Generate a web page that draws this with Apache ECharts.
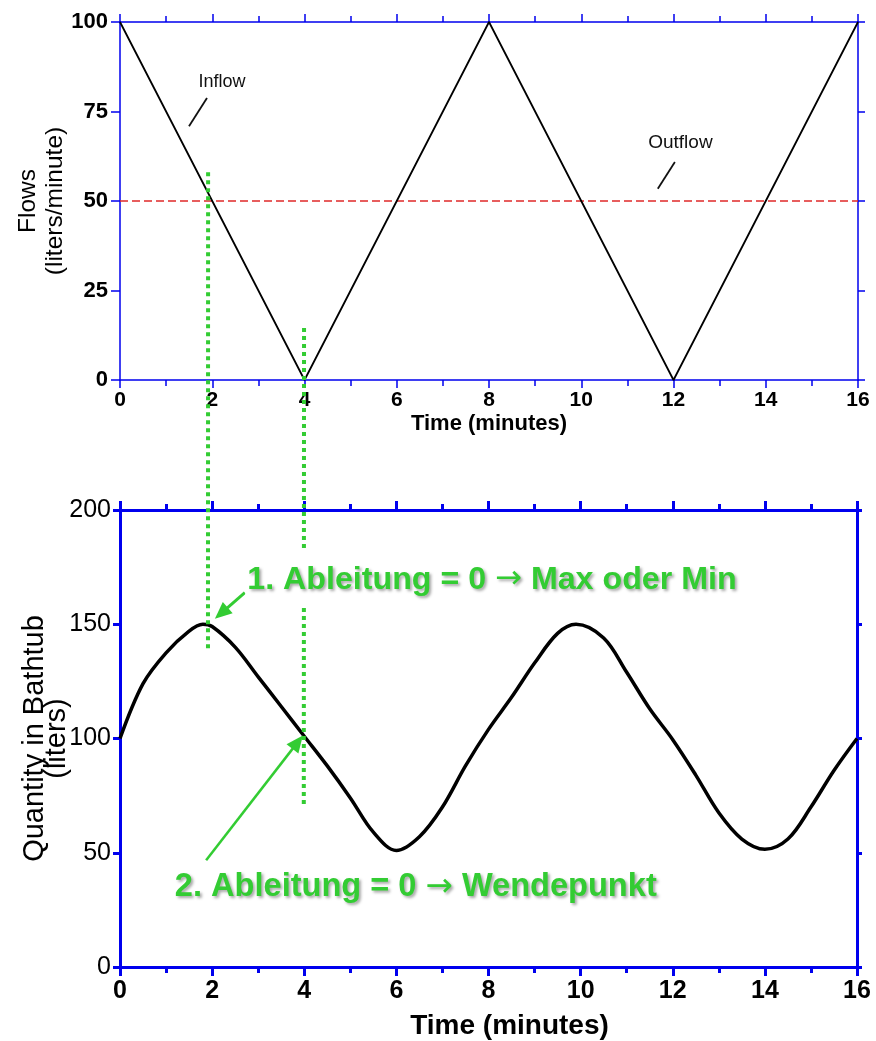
<!DOCTYPE html>
<html><head><meta charset="utf-8">
<script src="https://cdn.jsdelivr.net/npm/echarts@6/dist/echarts.min.js"></script>
<style>html,body{margin:0;padding:0;background:#fff}#c{width:876px;height:1041px}</style>
</head><body><div id="c"></div>
<script>
// ---- data ----
const inflowTime = [0, 4, 8, 12, 16];
const inflowValues = [100, 0, 100, 0, 100];
const outflowTime = [0, 16];
const outflowValues = [50, 50];
const quantityTime = [0, 0.5, 1, 1.5, 1.8, 2, 2.5, 3, 3.5, 4, 4.5, 5, 5.5, 6, 6.5, 7, 7.5, 8, 8.5, 9, 9.5, 9.9, 10.5, 11, 11.5, 12, 12.5, 13, 13.5, 14, 14.5, 15, 15.5, 16];
const quantityValues = [100, 124, 137.5, 147, 150, 149, 140, 127, 114, 101, 88, 74, 59, 51, 57, 70, 88, 104, 118, 133, 146, 150, 144, 129, 113, 99.5, 84, 67.5, 56, 51.5, 56, 70, 86, 100];
const flowTicks = [0, 25, 50, 75, 100];
const quantityTicks = [0, 50, 100, 150, 200];
const timeLabels = [0, 2, 4, 6, 8, 10, 12, 14, 16];
const annotation1 = ['1. Ableitung = 0 ', '\u2192', ' Max oder Min'];
const annotation2 = ['2. Ableitung = 0 ', '\u2192', ' Wendepunkt'];

// ---- styling ----
const FONT = 'Liberation Sans, Arial, sans-serif';
const BLUE = '#0000ee';
const GREEN = '#33cc33';

function xAxis(grid, position, o) {
  return {
    type: 'value', gridIndex: grid, position: position, min: 0, max: 16, interval: 2,
    axisLine: {show: true, onZero: false, lineStyle: {color: BLUE, width: o.w}},
    axisTick: {show: true, length: o.major, lineStyle: {color: BLUE, width: o.w}},
    minorTick: {show: true, splitNumber: 2, length: o.minor, lineStyle: {color: BLUE, width: o.w}},
    splitLine: {show: false}, minorSplitLine: {show: false},
    axisLabel: {show: !!o.label, fontSize: o.fs, fontWeight: 'bold', color: '#000', margin: o.margin, fontFamily: FONT,
      formatter: v => timeLabels.includes(v) ? String(v) : ''},
    name: o.name || '', nameLocation: 'middle', nameGap: o.nameGap || 0, nameMoveOverlap: false,
    nameTextStyle: {fontSize: o.nameFs, fontWeight: 'bold', color: '#000', fontFamily: FONT, padding: o.namePad || 0}
  };
}
function yAxis(grid, position, o) {
  return {
    type: 'value', gridIndex: grid, position: position, min: 0, max: o.max, interval: o.interval,
    axisLine: {show: true, onZero: false, lineStyle: {color: BLUE, width: o.w}},
    axisTick: {show: true, length: o.major, lineStyle: {color: BLUE, width: o.w}},
    splitLine: {show: false},
    axisLabel: {show: !!o.label, fontSize: o.fs, fontWeight: o.fw || 'bold', color: '#000', margin: o.margin, fontFamily: FONT,
      formatter: v => o.ticks.includes(v) ? String(v) : ''},
    name: o.name || '', nameLocation: 'middle', nameGap: o.nameGap || 0, nameMoveOverlap: false,
    nameTextStyle: o.nameStyle || {}
  };
}

const chart = echarts.init(document.getElementById('c'));
const option = {
  animation: false,
  backgroundColor: '#fff',
  grid: [
    {left: 120, right: 18, top: 22, height: 358, containLabel: false},
    {left: 120, right: 19, top: 510, height: 458, containLabel: false}
  ],
  xAxis: [
    xAxis(0, 'bottom', {w: 1.5, major: 8, minor: 6, label: true, fs: 21, margin: 10, name: 'Time (minutes)', nameFs: 22, nameGap: 33}),
    xAxis(0, 'top', {w: 1.5, major: 8, minor: 6}),
    xAxis(1, 'bottom', {w: 3, major: 9, minor: 6, label: true, fs: 25, margin: 12, name: 'Time (minutes)', nameFs: 28, nameGap: 45, namePad: [0, 0, 0, 42]}),
    xAxis(1, 'top', {w: 3, major: 9, minor: 6})
  ],
  yAxis: [
    yAxis(0, 'left', {w: 1.5, major: 9, max: 100, interval: 25, ticks: flowTicks, label: true, fs: 22, margin: 12,
      name: '{a|Flows}\n{a|(liters/minute)}', nameGap: 51,
      nameStyle: {color: '#000', fontFamily: FONT, rich: {a: {fontSize: 24.5, lineHeight: 27, color: '#000', fontFamily: FONT}}}}),
    yAxis(0, 'right', {w: 1.5, major: 7, max: 100, interval: 25, ticks: flowTicks}),
    yAxis(1, 'left', {w: 3, major: 7, max: 200, interval: 50, ticks: quantityTicks, label: true, fs: 25, fw: 'normal', margin: 9,
      name: '{a|Quantity in Bathtub}\n{a|(liters)}', nameGap: 52,
      nameStyle: {color: '#000', fontFamily: FONT, rich: {a: {fontSize: 29, lineHeight: 22, color: '#000', fontFamily: FONT}}}}),
    yAxis(1, 'right', {w: 3, major: 5, max: 200, interval: 50, ticks: quantityTicks})
  ],
  series: [
    {type: 'line', xAxisIndex: 0, yAxisIndex: 0, symbol: 'none',
      data: inflowTime.map((t, i) => [t, inflowValues[i]]),
      lineStyle: {color: '#000', width: 1.8}, z: 3},
    {type: 'line', xAxisIndex: 0, yAxisIndex: 0, symbol: 'none',
      data: outflowTime.map((t, i) => [t, outflowValues[i]]),
      lineStyle: {color: '#e02828', width: 1.5, type: [8, 4]}, z: 2},
    {type: 'line', xAxisIndex: 2, yAxisIndex: 2, symbol: 'none', smooth: 0.35,
      data: quantityTime.map((t, i) => [t, quantityValues[i]]),
      lineStyle: {color: '#000', width: 3.5}, z: 3}
  ]
};
chart.setOption(option);

// ---- annotations positioned through the axes ----
const P = (g, x, y) => chart.convertToPixel({gridIndex: g}, [x, y]);
function arrow(tail, tip, width, headLen, headW) {
  const dx = tip[0] - tail[0], dy = tip[1] - tail[1], L = Math.hypot(dx, dy);
  const ux = dx / L, uy = dy / L, bx = tip[0] - ux * headLen, by = tip[1] - uy * headLen;
  const px = -uy, py = ux;
  return [
    {type: 'line', z: 20, shape: {x1: tail[0], y1: tail[1], x2: bx + ux * 2, y2: by + uy * 2}, style: {stroke: GREEN, lineWidth: width}},
    {type: 'polygon', z: 20, shape: {points: [tip, [bx + px * headW / 2, by + py * headW / 2], [bx - px * headW / 2, by - py * headW / 2]]}, style: {fill: GREEN}}
  ];
}
function seg(a, b, style, z) {
  return {type: 'line', z: z || 10, shape: {x1: a[0], y1: a[1], x2: b[0], y2: b[1]}, style: style};
}
const dotted = {stroke: GREEN, lineWidth: 4, lineDash: [4, 4]};
const g = [];
g.push(seg(P(0, 1.91, 58), P(1, 1.91, 139.5), dotted, 10));
g.push(seg(P(0, 3.99, 14.5), P(1, 3.99, 71), dotted, 10));
// inflow / outflow labels
const inL = P(0, 2.21, 83.2), outL = P(0, 12.15, 66.2);
g.push({type: 'text', z: 15, style: {text: 'Inflow', x: inL[0], y: inL[1], align: 'center', verticalAlign: 'middle', font: '18px ' + FONT, fill: '#111'}});
g.push({type: 'text', z: 15, style: {text: 'Outflow', x: outL[0], y: outL[1], align: 'center', verticalAlign: 'middle', font: '19px ' + FONT, fill: '#111'}});
g.push(seg(P(0, 1.886, 78.8), P(0, 1.496, 70.9), {stroke: '#111', lineWidth: 1.8}, 15));
g.push(seg(P(0, 12.03, 60.9), P(0, 11.66, 53.4), {stroke: '#111', lineWidth: 1.8}, 15));
// green annotations
const shadow = {textShadowColor: 'rgba(0,0,0,0.35)', textShadowBlur: 3, textShadowOffsetX: 2, textShadowOffsetY: 2};
function richFor(size) {
  return {
    t: Object.assign({font: 'bold ' + size + 'px ' + FONT, fill: GREEN}, shadow),
    r: Object.assign({font: size + 'px DejaVu Sans', fill: GREEN}, shadow)
  };
}
function annoText(parts) { return '{t|' + parts[0] + '}{r|' + parts[1] + '}{t|' + parts[2] + '}'; }
const t1 = P(1, 2.72, 169.4), t2 = P(1, 1.19, 34.9);
g.push({type: 'text', z: 30, style: {text: annoText(annotation1), rich: richFor(32.2), x: t1[0], y: t1[1], align: 'left', verticalAlign: 'middle',
  backgroundColor: '#fff', padding: [12, 4, 12, 2]}});
g.push({type: 'text', z: 30, style: {text: annoText(annotation2), rich: richFor(32.6), x: t2[0], y: t2[1], align: 'left', verticalAlign: 'middle'}});
arrow(P(1, 2.71, 163.8), P(1, 2.06, 152.4), 3, 17, 15).forEach(e => g.push(e));
arrow(P(1, 1.87, 46.7), P(1, 3.97, 101.3), 2.5, 17, 15).forEach(e => g.push(e));
chart.setOption({graphic: g});
</script></body></html>
